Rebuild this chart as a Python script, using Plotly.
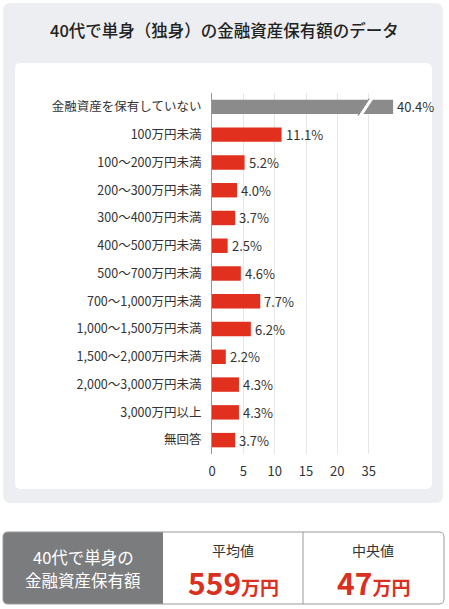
import plotly.graph_objects as go

# ---------------- data ----------------
title_text = "40代で単身（独身）の金融資産保有額のデータ"
categories = [
    "金融資産を保有していない", "100万円未満", "100～200万円未満", "200～300万円未満",
    "300～400万円未満", "400～500万円未満", "500～700万円未満", "700～1,000万円未満",
    "1,000～1,500万円未満", "1,500～2,000万円未満", "2,000～3,000万円未満",
    "3,000万円以上", "無回答",
]
values = [40.4, 11.1, 5.2, 4.0, 3.7, 2.5, 4.6, 7.7, 6.2, 2.2, 4.3, 4.3, 3.7]
tick_vals = [0, 5, 10, 15, 20, 25]
tick_text = ["0", "5", "10", "15", "20", "35"]
BREAK_GAP = 11.5  # broken axis: long bar is shortened
summary_label = ["40代で単身の", "金融資産保有額"]
stat_names = ["平均値", "中央値"]
stat_values = ["559", "47"]
stat_unit = "万円"

FONT = "Noto Sans CJK JP"
RED = "#e1301e"
GRAY = "#8b8b8b"

drawn = [v - BREAK_GAP if v > 30 else v for v in values]
colors = [GRAY if v > 30 else RED for v in values]

# plot area in pixels
W, H = 449, 609
PL, PR, PT, PB = 212, 400, 93, 454

def px(x):
    return (x - PL) / (PR - PL)

def py(y):
    return (PB - y) / (PB - PT)

def rrect(x0, y0, x1, y1, r, tl=True, tr=True, br=True, bl=True):
    def P(x, y):
        return f"{px(x):.5f},{py(y):.5f}"
    rtl, rtr, rbr, rbl = (r if c else 0 for c in (tl, tr, br, bl))
    s = f"M {P(x0 + rtl, y0)} L {P(x1 - rtr, y0)} "
    if rtr: s += f"Q {P(x1, y0)} {P(x1, y0 + rtr)} "
    s += f"L {P(x1, y1 - rbr)} "
    if rbr: s += f"Q {P(x1, y1)} {P(x1 - rbr, y1)} "
    s += f"L {P(x0 + rbl, y1)} "
    if rbl: s += f"Q {P(x0, y1)} {P(x0, y1 - rbl)} "
    s += f"L {P(x0, y0 + rtl)} "
    if rtl: s += f"Q {P(x0, y0)} {P(x0 + rtl, y0)} "
    return s + "Z"

fig = go.Figure()
fig.add_trace(go.Bar(
    y=categories, x=drawn, orientation="h",
    marker=dict(color=colors, line=dict(width=0)),
    width=0.52, hoverinfo="skip",
))

shapes = [
    # outer gray panel
    dict(type="path", xref="paper", yref="paper", path=rrect(3, 3, 443, 503, 8),
         fillcolor="#eceef1", line=dict(width=0), layer="below"),
    # white card
    dict(type="path", xref="paper", yref="paper", path=rrect(15, 63, 432, 489, 6),
         fillcolor="#ffffff", line=dict(width=0), layer="below"),
    # summary table
    dict(type="path", xref="paper", yref="paper", path=rrect(3, 532, 444, 604, 5),
         fillcolor="#ffffff", line=dict(width=0), layer="above"),
    dict(type="path", xref="paper", yref="paper",
         path=rrect(3, 532, 163, 604, 5, tr=False, br=False),
         fillcolor="#7b7c7e", line=dict(width=0), layer="above"),
    dict(type="path", xref="paper", yref="paper", path=rrect(3, 532, 444, 604, 5),
         fillcolor="rgba(0,0,0,0)", line=dict(color="#9a9a9a", width=1), layer="above"),
    dict(type="line", xref="paper", yref="paper", x0=px(303), x1=px(303), y0=py(532), y1=py(604),
         line=dict(color="#9a9a9a", width=1), layer="above"),
    # break mark on long bar
    dict(type="line", xref="x", yref="y", x0=23.6, x1=25.4, y0=0.32, y1=-0.3,
         line=dict(color="#ffffff", width=4), layer="above"),
    dict(type="line", xref="x", yref="y", x0=23.3, x1=25.1, y0=0.32, y1=-0.3,
         line=dict(color="#6e6e6e", width=1), layer="above"),
]

annotations = [
    dict(text=title_text, xref="paper", yref="paper", x=px(224), y=py(30),
         xanchor="center", yanchor="middle", showarrow=False,
         font=dict(family=FONT, size=16.5, color="#222222", weight=500)),
]
for c, d, v in zip(categories, drawn, values):
    annotations.append(dict(text=f"{v}%", x=d, y=c, xref="x", yref="y",
                            xanchor="left", yanchor="middle", xshift=2, showarrow=False,
                            font=dict(family=FONT, size=13, color="#333333")))

for line_text, ly in zip(summary_label, [557, 580]):
    annotations.append(dict(text=line_text, xref="paper", yref="paper",
                            x=px(83), y=py(ly), xanchor="center", yanchor="middle",
                            showarrow=False,
                            font=dict(family=FONT, size=16.5, color="#ffffff")))
for cx, name, val in zip([233, 373], stat_names, stat_values):
    annotations.append(dict(text=name, xref="paper", yref="paper", x=px(cx), y=py(550),
                            xanchor="center", yanchor="middle", showarrow=False,
                            font=dict(family=FONT, size=14, color="#333333")))
    annotations.append(dict(text=f"{val}<span style='font-size:19px'>{stat_unit}</span>",
                            xref="paper", yref="paper", x=px(cx), y=py(582),
                            xanchor="center", yanchor="middle", showarrow=False,
                            font=dict(family=FONT, size=30, color="#d93020", weight="bold")))

fig.update_layout(
    width=W, height=H,
    margin=dict(l=PL, r=W - PR, t=PT, b=H - PB, pad=0),
    paper_bgcolor="#ffffff", plot_bgcolor="rgba(0,0,0,0)",
    showlegend=False, bargap=0.48,
    shapes=shapes, annotations=annotations,
    font=dict(family=FONT, color="#333333"),
    xaxis=dict(range=[0, 30], tickvals=tick_vals, ticktext=tick_text,
               showgrid=True, gridcolor="#e6e6e6", gridwidth=1, zeroline=False,
               showline=False, ticks="", ticklabelstandoff=8,
               tickfont=dict(family=FONT, size=13, color="#333333"), fixedrange=True),
    yaxis=dict(categoryorder="array", categoryarray=categories, autorange="reversed",
               showgrid=False, zeroline=False, showline=True, linecolor="#999999",
               linewidth=1, ticks="", ticklabelstandoff=7,
               tickfont=dict(family=FONT, size=12.5, color="#333333"), fixedrange=True),
)

fig.write_html("out.html", include_plotlyjs=True, config={"displayModeBar": False})
